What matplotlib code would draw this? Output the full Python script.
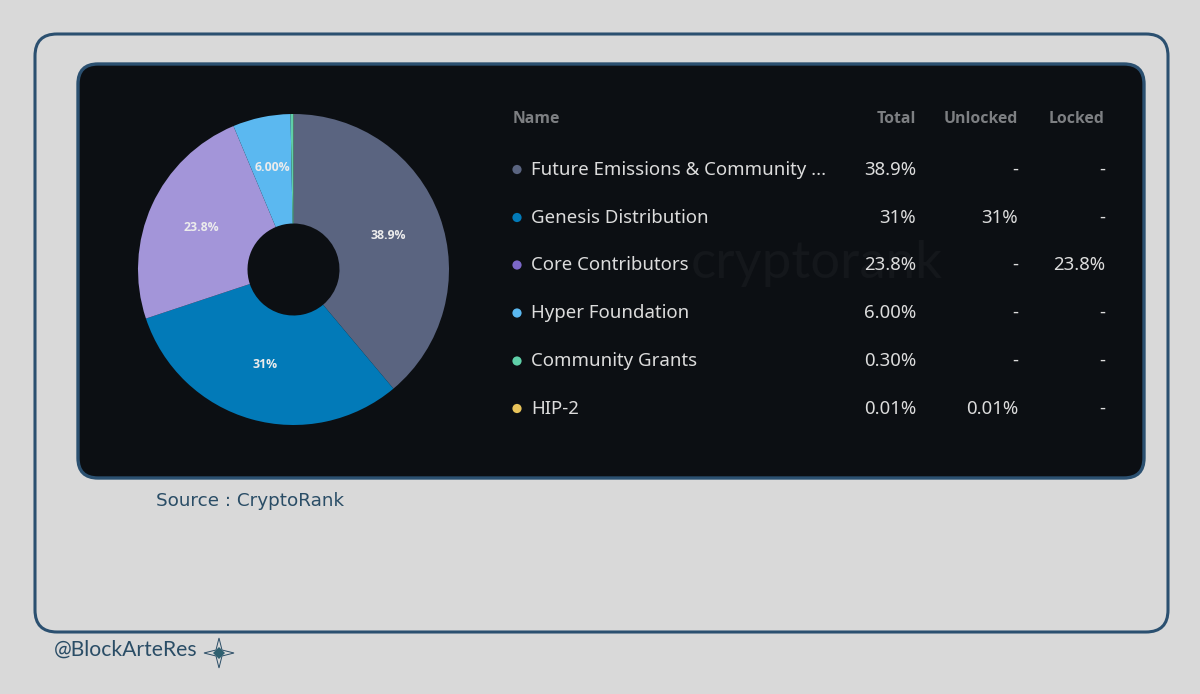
#!/usr/bin/env python3
"""
Token allocation donut with table, on a framed card
"""

import matplotlib
matplotlib.use('Agg')
import matplotlib.pyplot as plt
from matplotlib.patches import FancyBboxPatch, Polygon, Circle

# Data
names = ['Future Emissions & Community ...', 'Genesis Distribution', 'Core Contributors',
         'Hyper Foundation', 'Community Grants', 'HIP-2']
total = [38.9, 31, 23.8, 6.00, 0.30, 0.01]
total_labels = ['38.9%', '31%', '23.8%', '6.00%', '0.30%', '0.01%']
unlocked_labels = ['-', '31%', '-', '-', '-', '0.01%']
locked_labels = ['-', '-', '23.8%', '-', '-', '-']
headers = ['Name', 'Total', 'Unlocked', 'Locked']
slice_colors = ['#5a6480', '#027ab8', '#a395d9', '#5bb8f0', '#5fcfa8', '#e8c35a']
dot_colors = ['#5a6480', '#027ab8', '#7c68c8', '#5bb8f0', '#5fcfa8', '#e8c35a']

W, H = 1200, 694
BG = '#d9d9d9'
CARD = '#0c0f13'
FRAME = '#2b5070'
INK = '#2a4d66'
TABLE_FONT = ['Open Sans', 'DejaVu Sans']

plt.rcParams['font.family'] = ['Noto Sans', 'DejaVu Sans']

fig = plt.figure(figsize=(W / 100, H / 100), dpi=100, facecolor=BG)

# full figure axes in pixel coordinates for frame, card and table
ax = fig.add_axes([0, 0, 1, 1])
ax.set_xlim(0, W)
ax.set_ylim(H, 0)
ax.axis('off')

ax.add_patch(FancyBboxPatch((35, 34), 1133, 598, boxstyle="round,pad=0,rounding_size=22",
                            facecolor='none', edgecolor=FRAME, linewidth=2.2))
ax.add_patch(FancyBboxPatch((78, 64), 1066, 414, boxstyle="round,pad=0,rounding_size=20",
                            facecolor=CARD, edgecolor=FRAME, linewidth=2.4))

# faint watermark behind the table
ax.text(817, 263, 'cryptorank', color='#14171b', fontsize=38, ha='center', va='center',
        family=['Lato', 'DejaVu Sans'])

# table
header_x = [513, 916, 1018, 1105]
header_ha = ['left', 'right', 'right', 'right']
for label, x, ha in zip(headers, header_x, header_ha):
    ax.text(x, 118.5, label, color='#7d7f82', fontsize=11.4, fontweight='bold',
            ha=ha, va='center', family=TABLE_FONT)

row_y = [169.5, 217.5, 265, 313, 361, 408.5]
for i, y in enumerate(row_y):
    ax.add_patch(Circle((517, y), 4.6, facecolor=dot_colors[i], edgecolor='none'))
    ax.text(531, y, names[i], color='#dcdcdc', fontsize=13.4, ha='left', va='center')
    ax.text(916, y, total_labels[i], color='#dcdcdc', fontsize=13.4, ha='right', va='center')
    ax.text(1018, y, unlocked_labels[i], color='#dcdcdc', fontsize=13.4, ha='right', va='center')
    ax.text(1105, y, locked_labels[i], color='#dcdcdc', fontsize=13.4, ha='right', va='center')

# donut
cx, cy, r = 293.5, 269.5, 155.5
pie_ax = fig.add_axes([(cx - r) / W, 1 - (cy + r) / H, 2 * r / W, 2 * r / H])
wedges, _ = pie_ax.pie(total, colors=slice_colors, startangle=90, counterclock=False, radius=1,
                       wedgeprops=dict(width=1 - 46 / r, linewidth=0))
pie_ax.set_xlim(-1, 1)
pie_ax.set_ylim(-1, 1)
pie_ax.patch.set_alpha(0)

# slice labels, placed in pixel coordinates on top of the donut
label_xy = [(388.5, 235.5), (265.5, 364), (201, 227.5), (272.5, 167)]
for text, (x, y) in zip(total_labels[:4], label_xy):
    pie_ax.text(x, y, text, color='#ececec', fontsize=8.8, fontweight='bold',
                ha='center', va='center', transform=ax.transData, family=TABLE_FONT)

# captions
ax.text(156, 501, 'Source : CryptoRank', color=INK, fontsize=13.2, ha='left', va='center',
        family=['DejaVu Sans'])
ax.text(54, 650, '@BlockArteRes', color=INK, fontsize=15.2, ha='left', va='center',
        family=['Lato', 'DejaVu Sans'])

# small star next to the handle
sx, sy = 219, 653
ax.add_patch(Polygon([(sx - 15, sy), (sx - 3, sy - 3), (sx, sy - 15), (sx + 3, sy - 3),
                      (sx + 15, sy), (sx + 3, sy + 3), (sx, sy + 15), (sx - 3, sy + 3)],
                     facecolor='none', edgecolor=INK, linewidth=0.7))
ax.add_patch(Polygon([(sx - 6, sy), (sx, sy - 6), (sx + 6, sy), (sx, sy + 6)],
                     facecolor='#2f6070', edgecolor='none'))

fig.savefig('out.png', dpi=100, facecolor=BG)
